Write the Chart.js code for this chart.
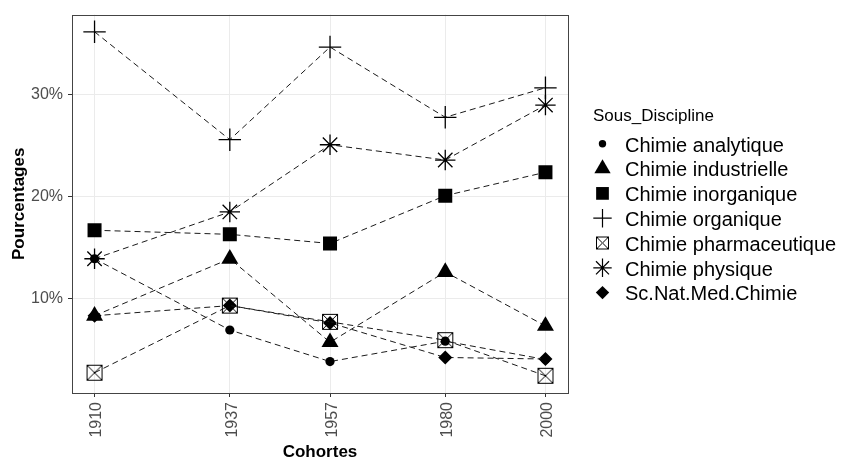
<!DOCTYPE html>
<html>
<head>
<meta charset="utf-8">
<title>Sous-disciplines de la chimie par cohorte</title>
<script src="https://cdn.jsdelivr.net/npm/chart.js@4.4.1/dist/chart.umd.min.js"></script>
<style>
  html, body { margin: 0; padding: 0; background: #fff; overflow: hidden; }
  canvas { display: block; }
</style>
</head>
<body>
<canvas id="chart" width="844" height="457"></canvas>
<script>
// --- data (in %) ---
const cohortes = [1910, 1937, 1957, 1980, 2000];
const yTicks = [10, 20, 30];
const yTickLabels = ['10%', '20%', '30%'];
const legendTitle = 'Sous_Discipline';
const disciplines = [
  'Chimie analytique',
  'Chimie industrielle',
  'Chimie inorganique',
  'Chimie organique',
  'Chimie pharmaceutique',
  'Chimie physique',
  'Sc.Nat.Med.Chimie'
];
const analytique     = [13.9, 6.9, 3.8, 5.8, 4.0];
const industrielle   = [8.3, 13.9, 5.7, 12.6, 7.3];
const inorganique    = [16.7, 16.3, 15.4, 20.1, 22.4];
const organique      = [36.2, 25.6, 34.7, 27.8, 30.7];
const pharmaceutique = [2.7, 9.3, 7.7, 5.9, 2.4];
const physique       = [13.9, 18.5, 25.1, 23.6, 29.0];
const scNatMed       = [8.3, 9.3, 7.6, 4.2, 4.05];
const series = [analytique, industrielle, inorganique, organique, pharmaceutique, physique, scNatMed];

const fontFamily = "'Liberation Sans', Arial, sans-serif";
Chart.defaults.font.family = fontFamily;

// crossed square (ggplot shape 7), drawn once as a sprite
function crossedBox(size) {
  const c = document.createElement('canvas');
  c.width = c.height = size + 2;
  const g = c.getContext('2d');
  g.strokeStyle = '#000';
  g.lineWidth = 1;
  g.strokeRect(1.5, 1.5, size - 1, size - 1);
  g.beginPath();
  g.moveTo(1.5, 1.5); g.lineTo(size + 0.5, size + 0.5);
  g.moveTo(size + 0.5, 1.5); g.lineTo(1.5, size + 0.5);
  g.stroke();
  return c;
}

// marker look per discipline (plot size / legend size)
const markers = [
  { style: 'circle',   radius: 4.6, legend: 3.7, filled: true },
  { style: 'triangle', radius: 9.8, legend: 9.4, filled: true },
  { style: 'rect',     radius: 9.9, legend: 9.0, filled: true },
  { style: 'cross',    radius: 11.2, legend: 9.2, filled: false },
  { style: crossedBox(16), legendStyle: crossedBox(13), radius: 8, legend: 7, filled: false },
  { style: 'star',     radius: 10.2, legend: 9.2, filled: false },
  { style: 'rectRot',  radius: 7.0, legend: 6.7, filled: true }
];

// ggplot-like 5% expansion of the data range
function expand(lo, hi) {
  const pad = (hi - lo) * 0.05;
  return [lo - pad, hi + pad];
}
const allValues = series.flat();
const [yMin, yMax] = expand(Math.min(...allValues), Math.max(...allValues));
const [xMin, xMax] = expand(Math.min(...cohortes), Math.max(...cohortes));

const datasets = disciplines.map((label, i) => ({
  label,
  data: series[i].map((v, j) => ({ x: cohortes[j], y: v })),
  borderColor: '#1a1a1a',
  borderWidth: 1,
  borderDash: [6, 4],
  tension: 0,
  fill: false,
  pointStyle: markers[i].style,
  pointRadius: markers[i].radius,
  pointBackgroundColor: '#000',
  pointBorderColor: '#000',
  pointBorderWidth: markers[i].filled ? 0 : 1.3
}));

// panel border drawn over the data, like theme_bw
const panelBorder = {
  id: 'panelBorder',
  afterDatasetsDraw(chart) {
    const { ctx, chartArea: a } = chart;
    ctx.save();
    ctx.strokeStyle = '#444';
    ctx.lineWidth = 1;
    ctx.strokeRect(Math.round(a.left) + 0.5, Math.round(a.top) + 0.5,
      Math.round(a.right - a.left), Math.round(a.bottom - a.top));
    ctx.restore();
  }
};

// legend on the right, laid out the way ggplot does it
const ggLegend = {
  id: 'ggLegend',
  afterDraw(chart, args, opts) {
    const ctx = chart.ctx;
    ctx.save();
    ctx.textAlign = 'left';
    ctx.textBaseline = 'alphabetic';
    ctx.fillStyle = '#000';
    ctx.font = `17px ${fontFamily}`;
    ctx.fillText(legendTitle, opts.titleX, opts.titleY);
    ctx.font = `20px ${fontFamily}`;
    chart.data.datasets.forEach((ds, i) => {
      const base = opts.firstY + i * opts.step;
      const m = markers[i];
      ctx.fillStyle = '#000';
      ctx.strokeStyle = '#000';
      ctx.lineWidth = 1.2;
      Chart.helpers.drawPoint(ctx, {
        pointStyle: m.legendStyle || m.style,
        radius: m.legend,
        rotation: 0,
        borderWidth: m.filled ? 0 : 1.2
      }, opts.symbolX, base - 7.7);
      ctx.fillStyle = '#000';
      ctx.fillText(ds.label, opts.textX, base);
    });
    ctx.restore();
  }
};

const gridStyle = { color: '#ebebeb', lineWidth: 1, tickColor: '#333', tickLength: 4 };

new Chart(document.getElementById('chart'), {
  type: 'line',
  data: { datasets },
  plugins: [panelBorder, ggLegend],
  options: {
    responsive: false,
    animation: false,
    events: [],
    layout: { padding: { top: 14, right: 276, bottom: 0, left: 0 } },
    plugins: {
      legend: { display: false },
      tooltip: { enabled: false },
      ggLegend: { titleX: 593, titleY: 121, symbolX: 602.5, textX: 625, firstY: 151.5, step: 24.8 }
    },
    scales: {
      x: {
        type: 'linear',
        min: xMin,
        max: xMax,
        afterBuildTicks: s => { s.ticks = cohortes.map(v => ({ value: v })); },
        afterFit: s => { s.height = 64; },
        ticks: {
          autoSkip: false,
          minRotation: 90,
          maxRotation: 90,
          padding: 5,
          labelOffset: 2.5,
          color: '#4d4d4d',
          font: { size: 16 },
          callback: v => String(v)
        },
        grid: gridStyle,
        border: { display: false },
        title: {
          display: true,
          text: 'Cohortes',
          color: '#000',
          font: { size: 17, weight: 'bold' },
          padding: { top: 0, bottom: -6 }
        }
      },
      y: {
        type: 'linear',
        min: yMin,
        max: yMax,
        afterBuildTicks: s => { s.ticks = yTicks.map(v => ({ value: v })); },
        afterFit: s => { s.width = 72; },
        ticks: {
          padding: 5,
          color: '#4d4d4d',
          font: { size: 16 },
          callback: v => yTickLabels[yTicks.indexOf(v)]
        },
        grid: gridStyle,
        border: { display: false },
        title: {
          display: true,
          text: 'Pourcentages',
          color: '#000',
          font: { size: 17, weight: 'bold' },
          padding: { top: 9, bottom: 0 }
        }
      }
    }
  }
});
</script>
</body>
</html>
